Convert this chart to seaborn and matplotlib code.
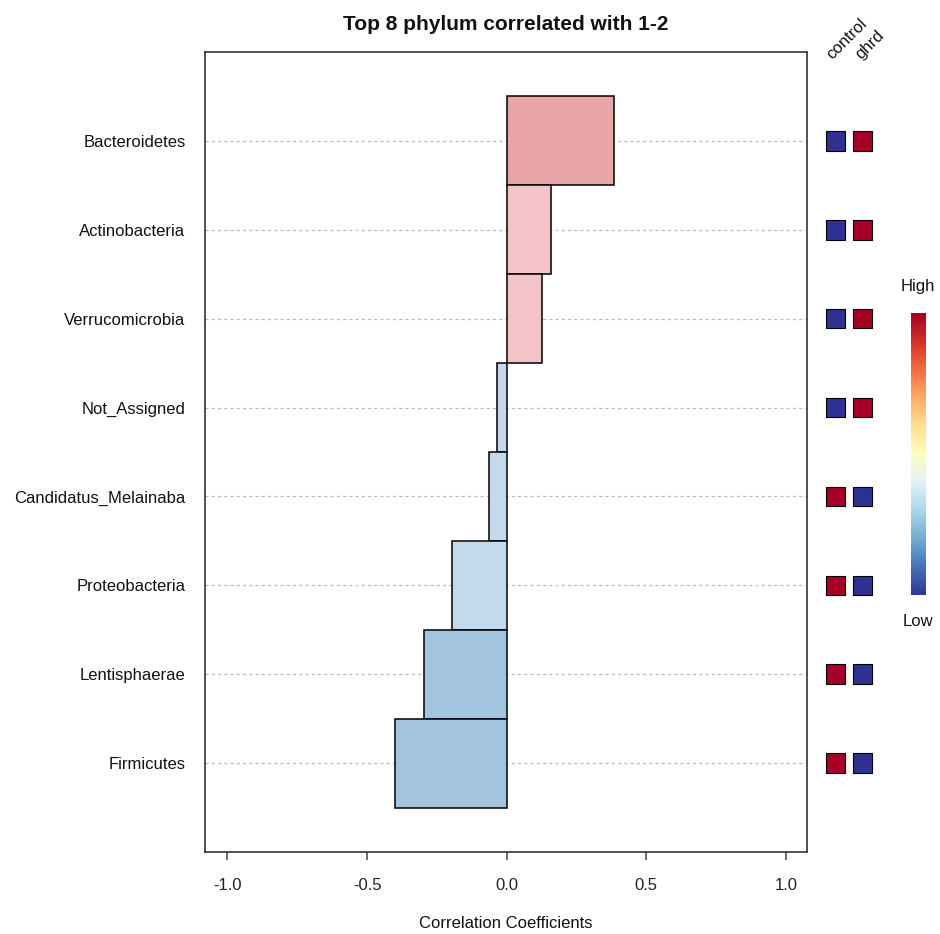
import numpy as np
import pandas as pd
import matplotlib
matplotlib.use("Agg")
import matplotlib.pyplot as plt
import seaborn as sns

# ---- data ----
phylum = ["Bacteroidetes", "Actinobacteria", "Verrucomicrobia", "Not_Assigned",
          "Candidatus_Melainaba", "Proteobacteria", "Lentisphaerae", "Firmicutes"]
corr = [0.383, 0.160, 0.126, -0.035, -0.063, -0.197, -0.297, -0.401]
bar_colors = ["#E8A5A8", "#F2C4C7", "#F2C4C7", "#C4DAEC",
              "#C4DAEC", "#C4DAEC", "#A3C4DF", "#A3C4DF"]
groups = ["control", "ghrd"]
# 1 = high, 0 = low
control_level = [0, 0, 0, 0, 1, 1, 1, 1]
ghrd_level = [1, 1, 1, 1, 0, 0, 0, 0]
xticks = [-1.0, -0.5, 0.0, 0.5, 1.0]

sns.set_theme(style="white")
plt.rcParams["font.family"] = ["Liberation Sans", "DejaVu Sans"]

W, H = 940, 934
fig = plt.figure(figsize=(W / 100, H / 100), dpi=100)

def fax(l, t, r, b):
    return fig.add_axes([l / W, 1 - b / H, (r - l) / W, (b - t) / H])

ax = fax(205, 52, 807, 852)
df = pd.DataFrame({"phylum": phylum, "corr": corr})
pal = dict(zip(phylum, bar_colors))

# grid lines behind bars
for i in range(len(phylum)):
    ax.axhline(i, color="#BBBBBB", lw=0.9, ls=(0, (2.5, 2.5)), zorder=0)

sns.barplot(data=df, x="corr", y="phylum", hue="phylum", palette=pal,
            order=phylum, hue_order=phylum, width=1.0, legend=False,
            edgecolor="black", linewidth=1.1, saturation=1, ax=ax, zorder=2)

ax.set_xlim(-1.08, 1.075)
ax.set_ylim(len(phylum) - 1 + 1.0, -1.0)
ax.set_xticks(xticks)
ax.set_xticklabels([f"{v:.1f}" for v in xticks], fontsize=12, color="#222222")
ax.tick_params(axis="x", length=6, width=1.1, color="#444444", pad=13, bottom=True)
ax.tick_params(axis="y", length=0, pad=14, labelsize=12, labelcolor="#111111")
ax.set_ylabel("")
ax.set_xlabel("Correlation Coefficients", fontsize=12, labelpad=16, color="#111111")
for s in ax.spines.values():
    s.set_color("#333333")
    s.set_linewidth(1.2)
ax.set_title("Top 8 phylum correlated with 1-2", fontsize=15, fontweight="bold",
             pad=16, color="#111111")

# ---- group squares ----
ax2 = fax(815, 52, 885, 852)
ax2.set_xlim(815, 885)
ax2.set_ylim(len(phylum) - 1 + 1.0, -1.0)
ax2.axis("off")
ypos = np.arange(len(phylum))
lev_col = {1: "#A50026", 0: "#2E3192"}
for xc, levels in zip([835.5, 862.5], [control_level, ghrd_level]):
    ax2.scatter([xc] * len(phylum), ypos, marker="s", s=200,
                c=[lev_col[v] for v in levels], edgecolors="black", linewidths=0.8)

for name, xc in zip(groups, [834, 863]):
    fig.text(xc / W, 1 - 62 / H, name, rotation=45, rotation_mode="anchor",
             ha="left", va="bottom", fontsize=12, color="#111111")

# ---- colour key ----
cax = fax(911, 313, 926, 595)
grad = np.linspace(1, 0, 256).reshape(-1, 1)
cax.imshow(grad, aspect="auto", cmap="RdYlBu_r")
cax.axis("off")
fig.text(918 / W, 1 - 286 / H, "High", ha="center", va="center", fontsize=12, color="#111111")
fig.text(918 / W, 1 - 621 / H, "Low", ha="center", va="center", fontsize=12, color="#111111")

fig.savefig("out.png", dpi=100)
